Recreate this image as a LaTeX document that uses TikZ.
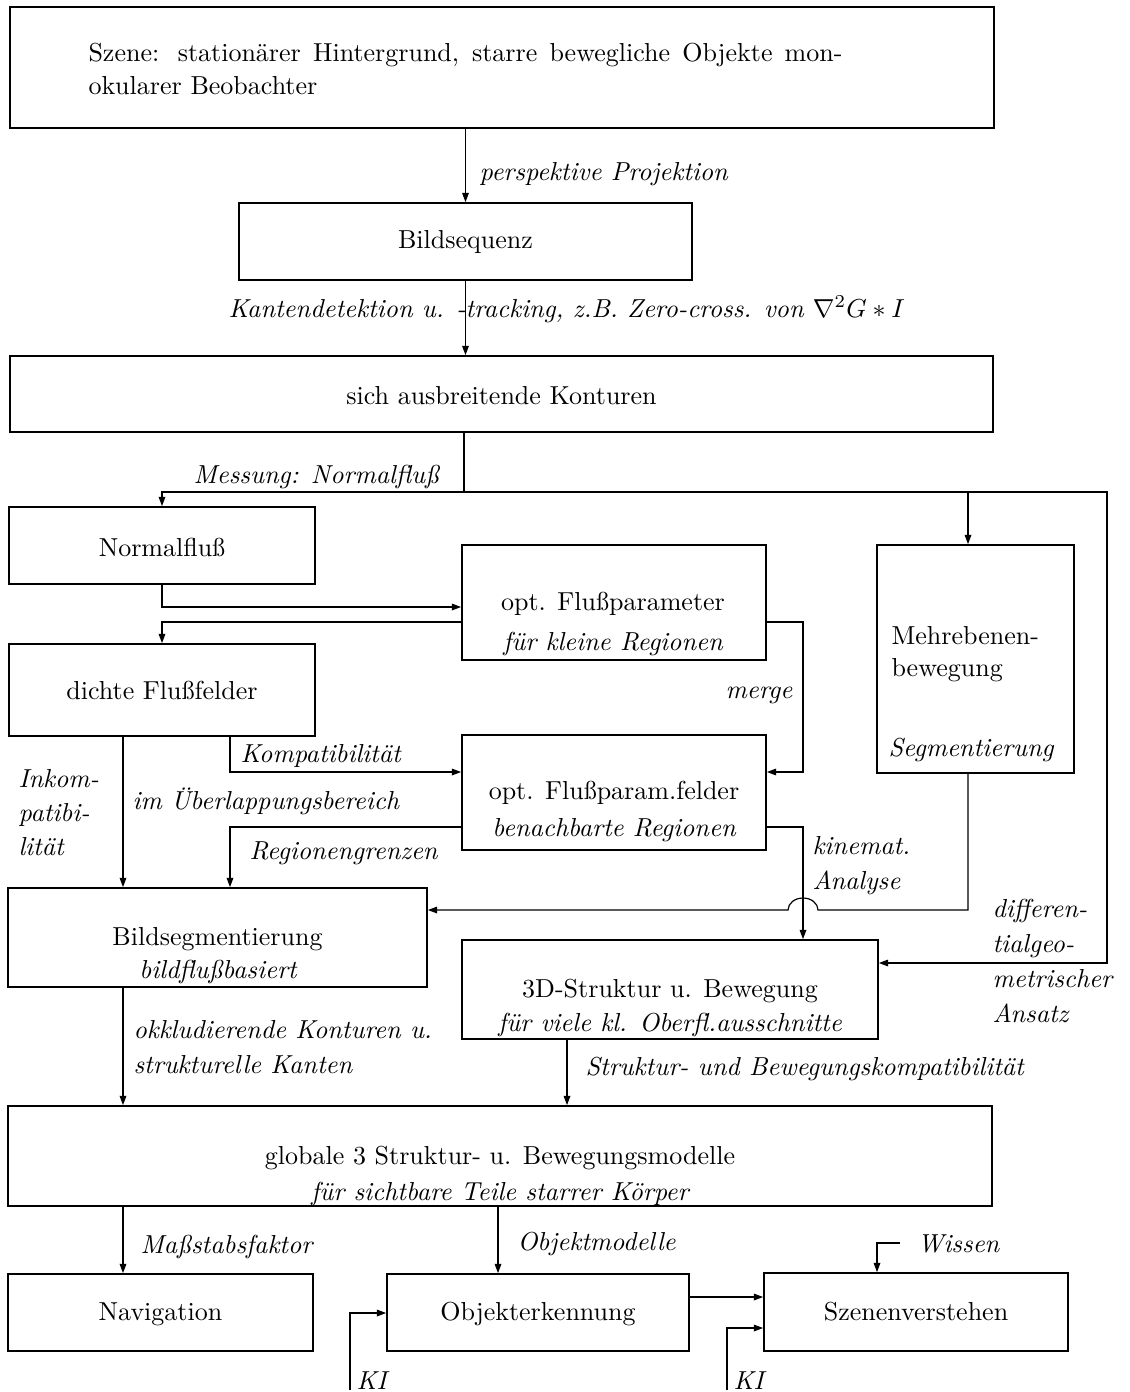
\documentclass[tikz,border=0pt]{standalone}
\usetikzlibrary{arrows.meta,fit}
\begin{document}
\begin{tikzpicture}[x=0.75pt,y=-0.75pt,
  font=\fontsize{10}{12}\selectfont,
  box/.style={draw, line width=1.3pt, inner sep=0pt},
  txt/.style={inner sep=0pt, anchor=base, scale=1.95},
  txtl/.style={inner sep=0pt, anchor=base west, scale=1.95},
  lab/.style={inner sep=0pt, anchor=base west, scale=1.95, font=\fontsize{10}{12}\selectfont\itshape},
  itx/.style={inner sep=0pt, anchor=base, scale=1.95, font=\fontsize{10}{12}\selectfont\itshape},
  conn/.style={line width=0.9pt},
  arr/.style={conn, -{Stealth[length=7pt,width=5pt,inset=0pt]}}]
\useasboundingbox (0,0) rectangle (1130,1392);

% boxes
\node[box, fit={(10,7) (994,128)}] (szene) {};
\node[box, fit={(239,203) (692,280)}] (bild) {};
\node[box, fit={(10,356) (993,432)}] (kont) {};
\node[box, fit={(9,507) (315,584)}] (normal) {};
\node[box, fit={(462,545) (766,660)}] (optp) {};
\node[box, fit={(877,545) (1074,773)}] (mehr) {};
\node[box, fit={(9,644) (315,736)}] (dichte) {};
\node[box, fit={(462,735) (766,850)}] (optf) {};
\node[box, fit={(8,888) (427,987)}] (bildseg) {};
\node[box, fit={(462,940) (878,1039)}] (d3) {};
\node[box, fit={(8,1106) (992,1206)}] (global) {};
\node[box, fit={(8,1274) (313,1351)}] (nav) {};
\node[box, fit={(387,1274) (689,1351)}] (objekt) {};
\node[box, fit={(764,1273) (1068,1351)}] (szenen) {};

% box texts
\node[txtl] (tszene1) at (88,61) {\makebox[290pt][s]{Szene: stationärer Hintergrund, starre bewegliche Objekte mon-}};
\node[txtl] (tszene2) at (88,94) {okularer Beobachter};
\node[txt] (tbild) at (465.5,248) {Bildsequenz};
\node[txt] (tkont) at (501.5,404) {sich ausbreitende Konturen};
\node[txt] (tnorm) at (162,556) {Normalflu\ss};
\node[txt] (toptp1) at (613,610) {opt. Flu\ss parameter};
\node[itx] (toptp2) at (613,650) {für kleine Regionen};
\node[txt] (tdichte) at (162,699) {dichte Flu\ss felder};
\node[txtl] (tmehr1) at (891,644) {Mehrebenen-};
\node[txtl] (tmehr2) at (891,676) {bewegung};
\node[lab] (tseg) at (888,756) {Segmentierung};
\node[txt] (toptf1) at (614,799) {opt. Flu\ss param.felder};
\node[itx] (toptf2) at (614,836) {benachbarte Regionen};
\node[txt] (tbs1) at (217.5,945) {Bildsegmentierung};
\node[itx] (tbs2) at (218,978) {bildflu\ss basiert};
\node[txt] (td31) at (670,997) {3D-Struktur u. Bewegung};
\node[itx] (td32) at (670,1031) {für viele kl. Oberfl.ausschnitte};
\node[txt] (tgl1) at (500,1164) {globale 3 Struktur- u. Bewegungsmodelle};
\node[itx] (tgl2) at (500,1200) {für sichtbare Teile starrer Körper};
\node[txt] (tnav) at (160.5,1320) {Navigation};
\node[txt] (tobj) at (538,1320) {Objekterkennung};
\node[txt] (tsz) at (916,1320) {Szenenverstehen};

% connector labels
\node[lab] (lpersp) at (479,180) {perspektive Projektion};
\node[lab] (lkant) at (228,317) {Kantendetektion u. -tracking, z.B. Zero-cross. von $\nabla^2G*I$};
\node[lab] (lmess) at (193,483) {Messung: Normalflu\ss};
\node[lab] (lmerge) at (725,698) {merge};
\node[lab] (lkomp) at (240,762) {Kompatibilität};
\node[lab] (lueber) at (132,809) {im Überlappungsbereich};
\node[lab] (linkom1) at (18,787) {Inkom-};
\node[lab] (linkom2) at (18,821) {patibi-};
\node[lab] (linkom3) at (18,855) {lität};
\node[lab] (lreg) at (249,859) {Regionengrenzen};
\node[lab] (lkin1) at (812,854) {kinemat.};
\node[lab] (lkin2) at (812,889) {Analyse};
\node[lab] (ldiff1) at (992,917) {differen-};
\node[lab] (ldiff2) at (992,952) {tialgeo-};
\node[lab] (ldiff3) at (992,987) {metrischer};
\node[lab] (ldiff4) at (992,1022) {Ansatz};
\node[lab] (lokk1) at (133,1038) {okkludierende Konturen u.};
\node[lab] (lokk2) at (133,1073) {strukturelle Kanten};
\node[lab] (lstr) at (585,1075) {Struktur- und Bewegungskompatibilität};
\node[lab] (lmass) at (140,1253) {Ma\ss stabsfaktor};
\node[lab] (lobjm) at (517,1250) {Objektmodelle};
\node[lab] (lwissen) at (917,1252) {Wissen};
\node[lab] (lki1) at (356,1389) {KI};
\node[lab] (lki2) at (733,1389) {KI};

% helper coordinates
\coordinate (br) at (464,492);
\coordinate (rt) at (1107,492);
\coordinate (rb) at (1107,963);
\coordinate (m1) at (968,492);
\coordinate (c1) at (162,607);
\coordinate (c2) at (162,622);
\coordinate (c3) at (803,622);
\coordinate (c4) at (803,772);
\coordinate (xa) at (123,0);
\coordinate (c6) at (230,772);
\coordinate (c7) at (230,827);
\coordinate (c8) at (803,827);
\coordinate (c9) at (968,910);
\coordinate (hop) at (803,910);
\coordinate (xb) at (567,0);
\coordinate (xc) at (498,0);
\coordinate (oy) at (0,1297);
\coordinate (k1) at (350,1390);
\coordinate (k1t) at (350,1313);
\coordinate (k2) at (727,1390);
\coordinate (k2t) at (727,1328);
\coordinate (w1) at (900,1243);
\coordinate (w2) at (877,1243);

% connectors
\draw[arr] (szene.south -| bild.north) -- (bild.north);
\draw[arr] (bild.south) -- (bild.south |- kont.north);
\draw[arr] (kont.south -| br) -- (br) -| (normal.north);
\draw[arr] (br) -- (rt) -- (rb) -- (rb -| d3.east);
\draw[arr] (m1) -- (m1 |- mehr.north);
\draw[arr] (normal.south) -- (c1) -- (c1 -| optp.west);
\draw[arr] (c2 -| optp.west) -- (c2) -- (dichte.north);
\draw[arr] (c3 -| optp.east) -- (c3) -- (c4) -- (c4 -| optf.east);
\draw[arr] (dichte.south -| xa) -- (bildseg.north -| xa);
\draw[arr] (dichte.south -| c6) -- (c6) -- (c6 -| optf.west);
\draw[arr] (c7 -| optf.west) -- (c7) -- (bildseg.north -| c7);
\draw[arr] (c8 -| optf.east) -- (c8) -- (d3.north -| c8);
\draw[arr] (mehr.south -| c9) -- (c9) -- ([xshift=11.25pt]hop)
  arc[start angle=0, end angle=180, x radius=11.25pt, y radius=9pt]
  -- (c9 -| bildseg.east);
\draw[arr] (bildseg.south -| xa) -- (global.north -| xa);
\draw[arr] (d3.south -| xb) -- (global.north -| xb);
\draw[arr] (global.south -| xa) -- (nav.north -| xa);
\draw[arr] (global.south -| xc) -- (objekt.north -| xc);
\draw[arr] (objekt.east |- oy) -- (szenen.west |- oy);
\draw[arr] (k1) -- (k1t) -- (k1t -| objekt.west);
\draw[arr] (k2) -- (k2t) -- (k2t -| szenen.west);
\draw[arr] (w1) -- (w2) -- (szenen.north -| w2);
\end{tikzpicture}
\end{document}
